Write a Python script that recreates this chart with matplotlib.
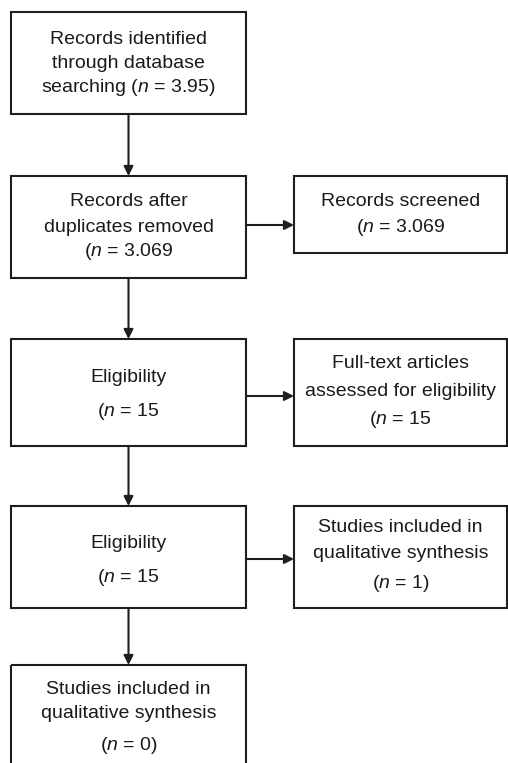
import matplotlib
matplotlib.use('Agg')
import matplotlib.pyplot as plt
from matplotlib.patches import Rectangle

plt.rcParams['font.family'] = ['Liberation Sans', 'DejaVu Sans']
plt.rcParams['mathtext.fontset'] = 'custom'
plt.rcParams['mathtext.rm'] = 'Liberation Sans'
plt.rcParams['mathtext.it'] = 'Liberation Sans:italic'

N = r'$\mathit{n}$'

# box texts, one entry per line
MAIN_LINES = [
    ['Records identified', 'through database', f'searching ({N} = 3.95)'],
    ['Records after', 'duplicates removed', f'({N} = 3.069'],
    ['Eligibility', f'({N} = 15'],
    ['Eligibility', f'({N} = 15'],
    ['Studies included in', 'qualitative synthesis', f'({N} = 0)'],
]
SIDE_LINES = [
    None,
    ['Records screened', f'({N} = 3.069'],
    ['Full-text articles', 'assessed for eligibility', f'({N} = 15'],
    ['Studies included in', 'qualitative synthesis', f'({N} = 1)'],
    None,
]

# layout in pixel units (y grows downwards)
ROWS_Y = [(12, 114), (176, 278), (339, 446), (506, 608), (665, 775)]
SIDE_Y = [None, (176, 253), (339, 446), (506, 608), None]
MAIN_TEXT_Y = [[39, 63, 88], [202, 227, 252], [377, 412], [543, 578], [690, 714, 745]]
SIDE_TEXT_Y = [None, [202, 228], [363, 391, 419], [528, 553, 583], None]
ARROW_Y = [None, 225, 396, 559, None]
MAIN_X = (11, 246)
SIDE_X = (294, 507)
EDGE = '#1e1e1e'


def draw_box(ax, xr, yr):
    ax.add_patch(Rectangle((xr[0], yr[0]), xr[1] - xr[0], yr[1] - yr[0],
                           fill=False, edgecolor=EDGE, linewidth=1.5))


def draw_lines(ax, xr, lines, ys):
    cx = (xr[0] + xr[1]) / 2
    for line, y in zip(lines, ys):
        ax.text(cx, y, line, ha='center', va='center', fontsize=14, color='#1a1a1a')


def draw_arrow(ax, start, end):
    ax.annotate('', xy=end, xytext=start,
                arrowprops=dict(arrowstyle='-|>', color=EDGE, lw=1.5,
                                mutation_scale=14, shrinkA=0, shrinkB=0))


fig = plt.figure(figsize=(5.08, 7.63), dpi=100)
ax = fig.add_axes([0, 0, 1, 1])
ax.set_xlim(0, 508)
ax.set_ylim(763, 0)
ax.axis('off')

mid_x = (MAIN_X[0] + MAIN_X[1]) / 2
for i, lines in enumerate(MAIN_LINES):
    draw_box(ax, MAIN_X, ROWS_Y[i])
    draw_lines(ax, MAIN_X, lines, MAIN_TEXT_Y[i])
    if i + 1 < len(MAIN_LINES):
        draw_arrow(ax, (mid_x, ROWS_Y[i][1]), (mid_x, ROWS_Y[i + 1][0]))
    if SIDE_LINES[i] is not None:
        draw_box(ax, SIDE_X, SIDE_Y[i])
        draw_lines(ax, SIDE_X, SIDE_LINES[i], SIDE_TEXT_Y[i])
        draw_arrow(ax, (MAIN_X[1], ARROW_Y[i]), (SIDE_X[0], ARROW_Y[i]))

fig.savefig('out.png', dpi=100)
